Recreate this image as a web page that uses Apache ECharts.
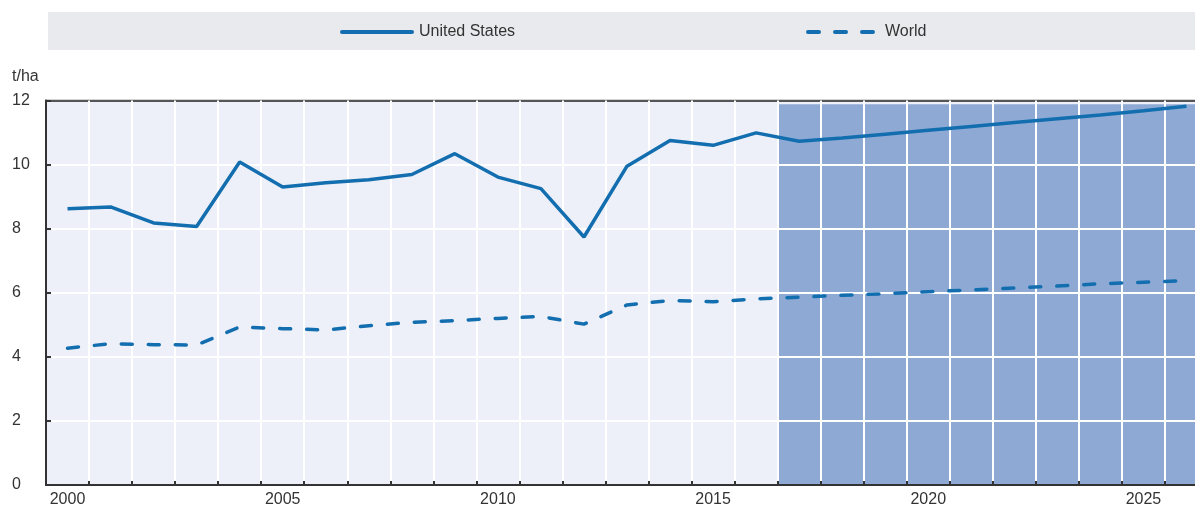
<!DOCTYPE html>
<html>
<head>
<meta charset="utf-8">
<title>t/ha</title>
<style>
  html, body { margin: 0; padding: 0; background: #fff; overflow: hidden; }
  #main { width: 1210px; height: 508px; }
</style>
<script src="https://cdn.jsdelivr.net/npm/echarts@6/dist/echarts.min.js"></script>
</head>
<body>
<div id="main"></div>
<script>
// years on the x axis
var years = ['2000','2001','2002','2003','2004','2005','2006','2007','2008','2009',
  '2010','2011','2012','2013','2014','2015','2016','2017','2018','2019',
  '2020','2021','2022','2023','2024','2025','2026'];

// yields, t/ha
var usYield = [8.62, 8.68, 8.18, 8.07, 10.08, 9.30, 9.43, 9.53, 9.69, 10.34,
  9.61, 9.25, 7.74, 9.95, 10.75, 10.60, 10.99, 10.73, 10.83, 10.95,
  11.07, 11.19, 11.31, 11.43, 11.55, 11.68, 11.82];
var worldYield = [4.27, 4.41, 4.38, 4.37, 4.93, 4.88, 4.84, 4.97, 5.08, 5.13,
  5.20, 5.26, 5.02, 5.62, 5.76, 5.72, 5.81, 5.86, 5.92, 5.97,
  6.03, 6.09, 6.15, 6.21, 6.28, 6.33, 6.38];

// projection period (shaded)
var projStart = 2016.5, projEnd = 2026.5;
var yTicks = { min: 0, max: 12, step: 2 };

var font = "'Liberation Sans Narrow', 'Arial Narrow', 'Liberation Sans', Arial, sans-serif";
var lineColor = '#136eb0';

var chart = echarts.init(document.getElementById('main'));

var legendBase = {
  top: 19,
  itemWidth: 70, itemHeight: 14, itemGap: 8,
  itemStyle: { opacity: 0 },
  lineStyle: { width: 4, cap: 'round' },
  textStyle: { fontSize: 16, color: '#333', fontFamily: font, padding: [0, 0, 0, 2] }
};

var option = {
  animation: false,
  textStyle: { fontFamily: font },
  graphic: [{
    type: 'rect',
    left: 48, top: 12,
    shape: { width: 1160, height: 38 },
    style: { fill: '#e9eaee' },
    z: -10
  }],
  legend: [
    Object.assign({}, legendBase, { left: 335, data: ['United States'] }),
    Object.assign({}, legendBase, { left: 801, data: ['World'] })
  ],
  grid: {
    left: 46, right: 2, top: 100.5, bottom: 23,
    show: true,
    backgroundColor: '#edf0f9',
    borderColor: '#555',
    borderWidth: 1.5
  },
  xAxis: [{
    type: 'category',
    data: years,
    boundaryGap: true,
    z: 3,
    axisLine: { lineStyle: { color: '#333', width: 2 } },
    axisTick: { show: true, inside: true, length: 4, interval: 0, lineStyle: { color: '#333', width: 2 } },
    axisLabel: { interval: 4, fontSize: 16, color: '#333', margin: 7, fontFamily: font },
    splitLine: { show: true, interval: 0, lineStyle: { color: '#fff', width: 2 } }
  }, {
    type: 'value',
    show: false,
    min: 1999.5, max: 2026.5,
    splitLine: { show: false }
  }],
  yAxis: {
    type: 'value',
    min: yTicks.min, max: yTicks.max, interval: yTicks.step,
    z: 3,
    name: 't/ha',
    nameLocation: 'end',
    nameGap: 16,
    nameTextStyle: { fontSize: 16, color: '#333', align: 'left', padding: [0, 0, 0, -34], fontFamily: font },
    axisLine: { show: true, lineStyle: { color: '#333', width: 2 } },
    axisTick: { show: true, inside: true, length: 5, lineStyle: { color: '#333', width: 2 } },
    axisLabel: { fontSize: 16, color: '#333', align: 'left', margin: 34, fontFamily: font },
    splitLine: {
      show: true,
      lineStyle: { color: ['#fff', '#fff', '#fff', '#fff', '#fff', '#fff', '#555'], width: 2 }
    }
  },
  series: [{
    name: 'proj',
    type: 'line',
    xAxisIndex: 1,
    data: [],
    z: 2,
    silent: true,
    markArea: {
      silent: true,
      itemStyle: { color: '#8eaad4' },
      data: [[{ xAxis: projStart, yAxis: 0 }, { xAxis: projEnd, yAxis: 11.88 }]]
    }
  }, {
    name: 'United States',
    type: 'line',
    data: usYield,
    z: 5,
    symbol: 'none',
    showSymbol: false,
    lineStyle: { color: lineColor, width: 3.5 },
    itemStyle: { color: lineColor }
  }, {
    name: 'World',
    type: 'line',
    data: worldYield,
    z: 5,
    symbol: 'none',
    showSymbol: false,
    lineStyle: { color: lineColor, width: 3.5, type: [11, 16], cap: 'round' },
    itemStyle: { color: lineColor }
  }]
};

chart.setOption(option);
</script>
</body>
</html>
